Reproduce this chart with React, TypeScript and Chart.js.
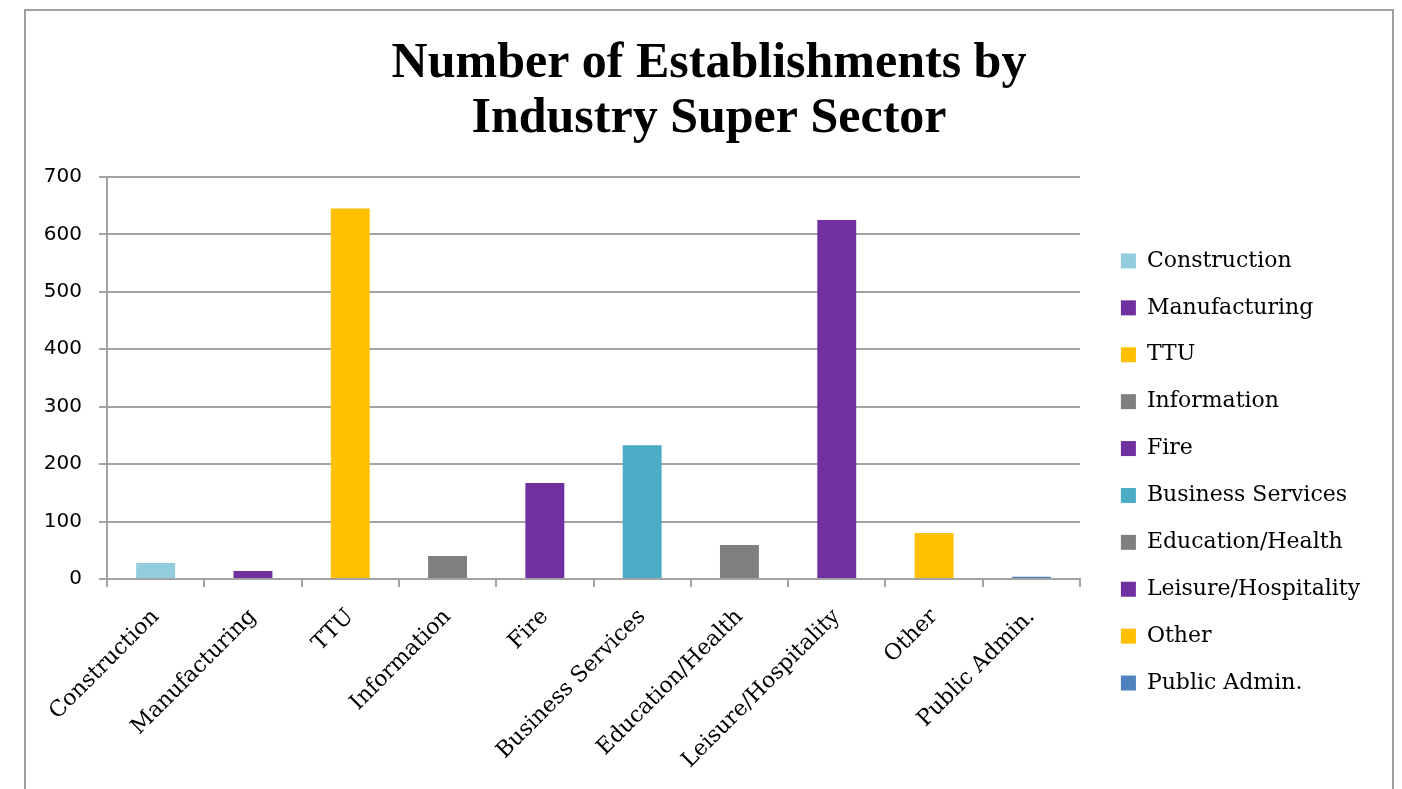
import React, { useEffect, useRef } from "react";
import { Chart, registerables } from "chart.js";

Chart.register(...registerables);

const categories = [
  "Construction",
  "Manufacturing",
  "TTU",
  "Information",
  "Fire",
  "Business Services",
  "Education/Health",
  "Leisure/Hospitality",
  "Other",
  "Public Admin.",
];
const establishments = [28, 14, 645, 40, 167, 233, 59, 625, 80, 4];
const barColors = [
  "#93CDDD",
  "#7030A0",
  "#FFC000",
  "#7F7F7F",
  "#7030A0",
  "#4BACC6",
  "#7F7F7F",
  "#7030A0",
  "#FFC000",
  "#4F81BD",
];
const titleLines = ["Number of Establishments by", "Industry Super Sector"];
const yMin = 0;
const yMax = 700;
const yStep = 100;

const W = 1402;
const H = 944;
const GRID = "#A3A3A3";
const LEGEND_WIDTH = 313;
const LEGEND_SHIFT = 16;

const frame = {
  id: "frame",
  beforeDraw(chart: any) {
    const ctx = chart.ctx;
    ctx.save();
    ctx.fillStyle = "#ffffff";
    ctx.fillRect(0, 0, chart.width, chart.height);
    ctx.strokeStyle = "#A0A0A0";
    ctx.lineWidth = 2;
    ctx.strokeRect(25, 10, 1368, 1000);
    ctx.restore();
  },
};

const legendPlacer = {
  id: "legendPlacer",
  beforeLayout(chart: any) {
    const lg = chart.legend;
    if (lg && !lg.__patched) {
      const orig = lg.fit;
      lg.fit = function (this: any) {
        orig.call(this);
        this.width = LEGEND_WIDTH;
      };
      lg.__patched = true;
    }
  },
  afterLayout(chart: any) {
    const lg = chart.legend;
    if (lg) {
      lg.left += LEGEND_SHIFT;
      lg.right = lg.left + lg.width;
    }
  },
};

export default function App() {
  const ref = useRef<HTMLCanvasElement | null>(null);
  useEffect(() => {
    if (!ref.current) return;
    const chart = new Chart(ref.current, {
      type: "bar",
      data: {
        labels: categories,
        datasets: [
          {
            data: establishments,
            backgroundColor: barColors,
            borderWidth: 0,
            barPercentage: 0.4,
            categoryPercentage: 1,
          },
        ],
      },
      options: {
        animation: false,
        responsive: false,
        devicePixelRatio: 1,
        layout: { padding: { left: 25, right: 9, top: 10, bottom: 10 } },
        plugins: {
          tooltip: { enabled: false },
          title: {
            display: true,
            text: titleLines,
            color: "#000",
            font: { family: "'Liberation Serif', serif", size: 50, weight: "bold", lineHeight: 1.1 },
            padding: { top: 26.5, bottom: 30.5 },
          },
          legend: {
            display: true,
            position: "right",
            onClick: () => {},
            labels: {
              boxWidth: 15,
              boxHeight: 15,
              padding: 24.9,
              color: "#000",
              font: { family: "'DejaVu Serif', serif", size: 22, lineHeight: 1.2 },
              generateLabels: () =>
                categories.map((c, i) => ({
                  text: c,
                  fillStyle: barColors[i],
                  strokeStyle: barColors[i],
                  lineWidth: 0,
                  hidden: false,
                  index: i,
                  datasetIndex: 0,
                })),
            },
          },
        },
        scales: {
          x: {
            grid: {
              display: true,
              offset: true,
              drawOnChartArea: false,
              drawTicks: true,
              tickLength: 8,
              color: GRID,
              lineWidth: 2,
            },
            border: { display: true, color: GRID, width: 2 },
            ticks: {
              color: "#000",
              font: { family: "'DejaVu Serif', serif", size: 22 },
              maxRotation: 45,
              minRotation: 45,
              autoSkip: false,
              padding: 17,
            },
            afterFit: (s: any) => {
              s.height = 355;
            },
          },
          y: {
            min: yMin,
            max: yMax,
            ticks: {
              stepSize: yStep,
              color: "#000",
              font: { family: "'DejaVu Sans', sans-serif", size: 20 },
              padding: 17,
            },
            grid: { color: GRID, lineWidth: 2, tickLength: 8 },
            border: { display: true, color: GRID, width: 2 },
            afterFit: (s: any) => {
              s.width = 82;
            },
          },
        },
      },
      plugins: [frame, legendPlacer],
    } as any);
    return () => chart.destroy();
  }, []);
  return (
    <div style={{ position: "fixed", left: 0, top: 0, width: W, height: 789, overflow: "hidden", background: "#fff" }}>
      <canvas ref={ref} width={W} height={H} style={{ display: "block", width: W, height: H }} />
    </div>
  );
}
